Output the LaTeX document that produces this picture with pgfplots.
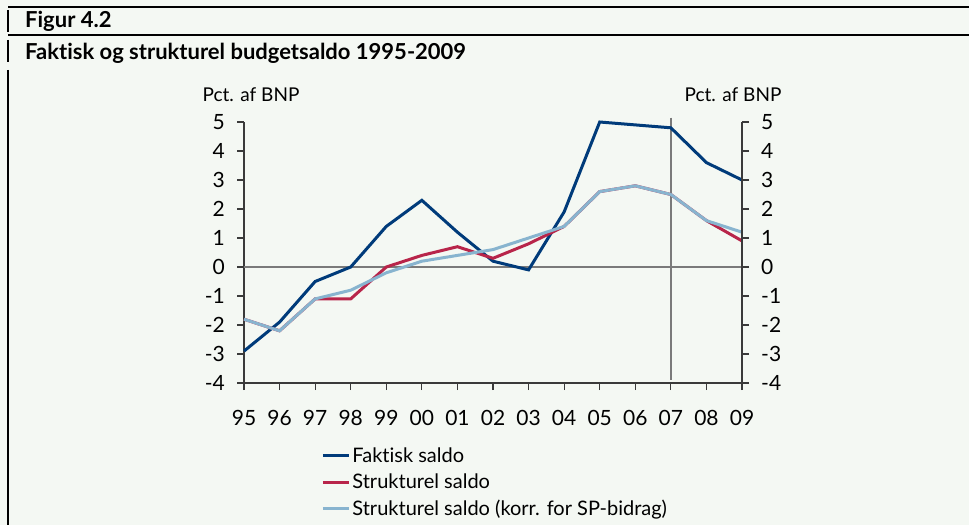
\documentclass[border=0pt]{standalone}
\usepackage{fontspec}
\setmainfont{Lato}[Ligatures={NoCommon}]
\usepackage{pgfplots}
\pgfplotsset{compat=1.18}

\definecolor{bg}{HTML}{F4F8F3}
\definecolor{navy}{HTML}{003B7A}
\definecolor{crim}{HTML}{B8254A}
\definecolor{lblue}{HTML}{88B4CF}
\definecolor{axdark}{HTML}{3A3A3A}
\definecolor{axgray}{HTML}{7A7A7A}

\begin{document}
\begin{tikzpicture}[x=1pt,y=1pt]
% page and frame
\fill[bg] (0,0) rectangle (969,525);
\path[use as bounding box] (0,0) rectangle (969,525);
\draw[line width=1.3pt] (8,518) -- (969,518);
\draw[line width=1.3pt] (8,490) -- (969,490);
\draw[line width=1.3pt] (8,515) -- (8,493);
\draw[line width=1.3pt] (8,485) -- (8,463);
\draw[line width=1.3pt] (8,455) -- (8,0);

\node[anchor=base west, inner sep=0pt, font=\bfseries\fontsize{22}{26}\selectfont] at (25,497) {Figur 4.2};
\node[anchor=base west, inner sep=0pt, font=\bfseries\fontsize{22}{26}\selectfont] at (25,465) {Faktisk og strukturel budgetsaldo 1995-2009};
\node[anchor=base, inner sep=0pt, font=\fontsize{19}{23}\selectfont] at (251,423) {Pct. af BNP};
\node[anchor=base, inner sep=0pt, font=\fontsize{19}{23}\selectfont] at (733,423) {Pct. af BNP};

\pgfplotsset{
  base/.style={
    at={(244pt,142pt)}, anchor=south west,
    scale only axis, width=498pt, height=261pt,
    xmin=0, xmax=14, ymin=-4, ymax=5,
    ytick={-4,-3,-2,-1,0,1,2,3,4,5},
    yticklabels={-4,-3,-2,-1,0,1,2,3,4,5},
    tick align=outside,
    major tick length=7pt,
    every tick/.style={axdark, line width=1.2pt},
    axis line style={axdark, line width=1.3pt},
    tick label style={font=\fontsize{21}{25}\selectfont},
  }
}

\begin{axis}[base,
  axis x line*=bottom, axis y line*=left,
  xtick={0,...,14},
  xticklabels={95,96,97,98,99,00,01,02,03,04,05,06,07,08,09},
  xticklabel style={inner sep=0pt, anchor=north, yshift=-20pt},
  yticklabel style={inner sep=0pt, anchor=east, xshift=-12pt},
  clip=false,
  legend style={at={(0.155,-0.24)}, anchor=north west, draw=none, fill=none,
    inner sep=0pt, font=\fontsize{20}{24}\selectfont, row sep=6pt,
    nodes={inner sep=2pt}},
  legend cell align=left,
  legend image code/.code={\draw[#1] (0pt,0pt) -- (26pt,0pt);},
]
\draw[axgray, line width=1.3pt] (axis cs:0,0) -- (axis cs:14,0);
\draw[axgray, line width=1.3pt] (axis cs:12,5.15) -- (axis cs:12,-3.9);

\addplot[navy, line width=3pt] coordinates {
 (0,-2.9) (1,-1.9) (2,-0.5) (3,0.0) (4,1.4) (5,2.3) (6,1.2) (7,0.2)
 (8,-0.1) (9,1.9) (10,5.0) (11,4.9) (12,4.8) (13,3.6) (14,3.0)
};
\addlegendentry{Faktisk saldo}
\addplot[crim, line width=3pt] coordinates {
 (0,-1.8) (1,-2.2) (2,-1.1) (3,-1.1) (4,0.0) (5,0.4) (6,0.7) (7,0.3)
 (8,0.8) (9,1.4) (10,2.6) (11,2.8) (12,2.5) (13,1.6) (14,0.9)
};
\addlegendentry{Strukturel saldo}
\addplot[lblue, line width=3pt] coordinates {
 (0,-1.8) (1,-2.2) (2,-1.1) (3,-0.8) (4,-0.2) (5,0.2) (6,0.4) (7,0.6)
 (8,1.0) (9,1.4) (10,2.6) (11,2.8) (12,2.5) (13,1.6) (14,1.2)
};
\addlegendentry{Strukturel saldo (korr. for SP-bidrag)}
\end{axis}

\begin{axis}[base,
  hide x axis,
  axis y line*=right,
  yticklabel pos=right,
  yticklabel style={inner sep=0pt, anchor=west, xshift=12pt},
]
\end{axis}
\end{tikzpicture}
\end{document}
